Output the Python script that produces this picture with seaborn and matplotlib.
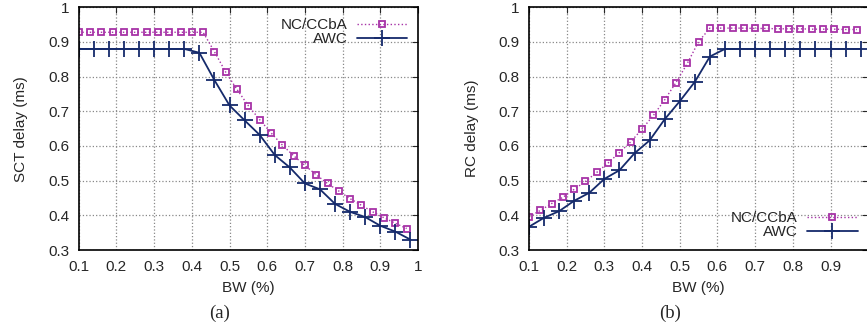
import numpy as np
import pandas as pd
import matplotlib
matplotlib.use("Agg")
import matplotlib.pyplot as plt
import seaborn as sns

# ---- data ----
# (a) SCT delay
sct_nc_bw = [0.10, 0.13, 0.16, 0.19, 0.22, 0.25, 0.28, 0.31, 0.34, 0.37, 0.40, 0.43,
             0.46, 0.49, 0.52, 0.55, 0.58, 0.61, 0.64, 0.67, 0.70, 0.73, 0.76, 0.79,
             0.82, 0.85, 0.88, 0.91, 0.94, 0.97]
sct_nc_delay = [0.928, 0.928, 0.928, 0.928, 0.928, 0.928, 0.928, 0.928, 0.928, 0.928, 0.928, 0.928,
                0.872, 0.813, 0.763, 0.716, 0.676, 0.638, 0.603, 0.572, 0.544, 0.517, 0.492, 0.470,
                0.448, 0.429, 0.410, 0.393, 0.377, 0.362]
sct_awc_bw = [0.10, 0.14, 0.18, 0.22, 0.26, 0.30, 0.34, 0.38, 0.42, 0.46, 0.50, 0.54,
              0.58, 0.62, 0.66, 0.70, 0.74, 0.78, 0.82, 0.86, 0.90, 0.94, 0.98]
sct_awc_delay = [0.880, 0.880, 0.880, 0.880, 0.880, 0.880, 0.880, 0.880, 0.869, 0.790, 0.717, 0.674,
                 0.632, 0.574, 0.538, 0.492, 0.475, 0.433, 0.410, 0.395, 0.370, 0.353, 0.330]

# (b) RC delay
rc_nc_bw = sct_nc_bw
rc_nc_delay = [0.396, 0.414, 0.434, 0.452, 0.475, 0.498, 0.524, 0.551, 0.581, 0.612, 0.649, 0.688,
               0.733, 0.783, 0.838, 0.901, 0.940, 0.940, 0.940, 0.940, 0.939, 0.939, 0.938, 0.938,
               0.938, 0.937, 0.937, 0.937, 0.936, 0.936]
rc_awc_bw = sct_awc_bw
rc_awc_delay = [0.367, 0.393, 0.412, 0.442, 0.465, 0.505, 0.530, 0.579, 0.616, 0.677, 0.729, 0.785,
                0.858, 0.880, 0.880, 0.880, 0.880, 0.880, 0.880, 0.880, 0.880, 0.880, 0.880]

x_ticks = [0.1, 0.2, 0.3, 0.4, 0.5, 0.6, 0.7, 0.8, 0.9, 1.0]
y_ticks = [0.3, 0.4, 0.5, 0.6, 0.7, 0.8, 0.9, 1.0]

NC_COLOR = '#a733a7'
AWC_COLOR = '#152a6b'
FS = 11

sns.set_style("white")
plt.rcParams['font.family'] = ['Liberation Sans', 'DejaVu Sans']
plt.rcParams['font.size'] = FS

fig = plt.figure(figsize=(8.67, 3.31), dpi=100)
ax1 = fig.add_axes([0.0908, 0.2447, 0.3913, 0.7332])
ax2 = fig.add_axes([0.6101, 0.2447, 0.3913, 0.7332])


def draw_panel(ax, nc_x, nc_y, awc_x, awc_y, ylabel, legend_loc, last_xlabel=True):
    nc = pd.DataFrame({'bw': nc_x, 'delay': nc_y})
    awc = pd.DataFrame({'bw': awc_x, 'delay': awc_y})
    sns.lineplot(data=nc, x='bw', y='delay', ax=ax, color=NC_COLOR, linestyle=':',
                 linewidth=1.0, marker='s', markersize=5, markerfacecolor='none',
                 markeredgecolor=NC_COLOR, markeredgewidth=1.3, label='NC/CCbA')
    sns.lineplot(data=awc, x='bw', y='delay', ax=ax, color=AWC_COLOR, linestyle='-',
                 linewidth=1.3, marker='+', markersize=11, markeredgewidth=1.3,
                 markeredgecolor=AWC_COLOR, label='AWC')
    ax.set_xlim(0.1, 1.0)
    ax.set_ylim(0.3, 1.0)
    ax.set_xticks(x_ticks)
    ax.set_yticks(y_ticks)
    xlabels = [f'{v:g}' for v in x_ticks]
    if not last_xlabel:
        # the reference image is cropped just before the last tick label
        xlabels[-1] = ''
    ax.set_xticklabels(xlabels)
    ax.set_yticklabels([f'{v:g}' for v in y_ticks])
    ax.grid(True, linestyle=':', color='#888888', linewidth=0.9)
    ax.tick_params(direction='in', top=True, right=True, length=4, width=0.8,
                   labelsize=FS, pad=7)
    for s in ax.spines.values():
        s.set_color('black')
        s.set_linewidth(1.2)
    ax.set_xlabel('BW (%)', fontsize=FS, labelpad=5)
    ax.set_ylabel(ylabel, fontsize=FS, labelpad=14)
    ax.legend(loc=legend_loc, frameon=False, markerfirst=False, fontsize=FS,
              handlelength=3.3, handletextpad=0.6, labelspacing=0.0,
              borderaxespad=0.3)


draw_panel(ax1, sct_nc_bw, sct_nc_delay, sct_awc_bw, sct_awc_delay, 'SCT delay (ms)', 'upper right')
draw_panel(ax2, rc_nc_bw, rc_nc_delay, rc_awc_bw, rc_awc_delay, 'RC delay (ms)', 'lower right',
           last_xlabel=False)

fig.text(220 / 867, 1 - 313 / 331, '(a)', ha='center', va='center', fontsize=13.5,
         family=['Liberation Serif', 'DejaVu Serif'])
fig.text(670 / 867, 1 - 313 / 331, '(b)', ha='center', va='center', fontsize=13.5,
         family=['Liberation Serif', 'DejaVu Serif'])

fig.savefig('out.png', dpi=100)
